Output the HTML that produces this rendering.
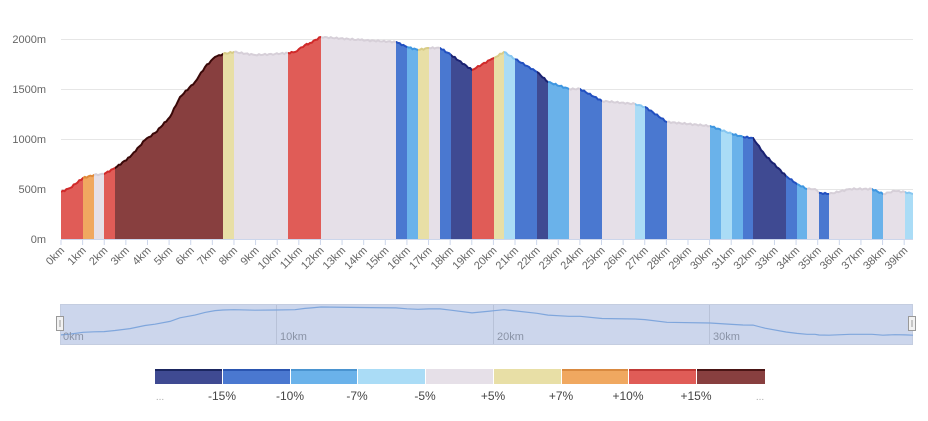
<!DOCTYPE html>
<html><head><meta charset="utf-8"><style>
html,body{margin:0;padding:0;background:#fff;}
svg{display:block;font-family:"Liberation Sans",sans-serif;}
</style></head><body>
<svg id="s" width="928" height="421" viewBox="0 0 928 421">
<defs id="defs">
<clipPath id="prof"><polygon points="61,239 61,192 70,188 83,178 94,175 104,174 115,168 130,157 145,140 155,133 170,117 180,97 195,82 205,67 215,57 223,54 234,52 255,55 275,54 288,53 295,52 305,45 310,43 321,37 360,40 396,42 407,47 418,50 429,48 440,48 451,55 472,70 490,60 494,58 504,52 515,59 537,72 548,82 569,89 580,89 602,101 635,104 645,107 667,122 710,126 732,134 743,137 753,138 765,155 786,176 797,184 807,189 815,189 819,193 829,194 850,189 872,189 883,194 895,191 905,192 913,194 913,239"/></clipPath>
</defs>
<g stroke="#e6e6e6" stroke-width="1">
<line x1="61" x2="913" y1="39.5" y2="39.5"/><line x1="61" x2="913" y1="89.5" y2="89.5"/><line x1="61" x2="913" y1="139.5" y2="139.5"/><line x1="61" x2="913" y1="189.5" y2="189.5"/>
</g>
<g font-size="11" fill="#666" text-anchor="end">
<text x="46" y="43">2000m</text><text x="46" y="93">1500m</text><text x="46" y="143">1000m</text><text x="46" y="193">500m</text><text x="46" y="243">0m</text>
</g>
<g id="areas" clip-path="url(#prof)"></g>
<g id="lines"></g>
<line x1="61" x2="913" y1="239.5" y2="239.5" stroke="#ccd6eb"/>
<g id="ticks" font-size="11" fill="#666" text-anchor="end"></g>
<rect x="60.5" y="304.5" width="852" height="40" fill="#ccd6ec" stroke="#c4cde0"/>
<g stroke="#b8c2d8"><line x1="276.5" x2="276.5" y1="305" y2="344"/><line x1="493.5" x2="493.5" y1="305" y2="344"/><line x1="709.5" x2="709.5" y1="305" y2="344"/></g>
<polyline id="nav" fill="none" stroke="#7fa6dc" stroke-width="1.2"/>
<g font-size="11" fill="#8a93a6"><text x="63" y="340">0km</text><text x="280" y="340">10km</text><text x="497" y="340">20km</text><text x="713" y="340">30km</text></g>
<rect x="56.5" y="316.5" width="7" height="14" fill="#f2f2f2" stroke="#999"/><line x1="60" x2="60" y1="320" y2="327" stroke="#999"/>
<rect x="908.5" y="316.5" width="7" height="14" fill="#f2f2f2" stroke="#999"/><line x1="912" x2="912" y1="320" y2="327" stroke="#999"/>
<g>
<rect x="155" y="369" width="67" height="15" fill="#3f4a92"/><rect x="155" y="369" width="67" height="2" fill="#1b2660"/>
<rect x="223" y="369" width="67" height="15" fill="#4a78d0"/><rect x="223" y="369" width="67" height="2" fill="#2a55b0"/>
<rect x="291" y="369" width="66" height="15" fill="#6ab2ea"/><rect x="291" y="369" width="66" height="2" fill="#4a94d0"/>
<rect x="358" y="369" width="67" height="15" fill="#aadcf6"/>
<rect x="426" y="369" width="67" height="15" fill="#e6e0e8"/>
<rect x="494" y="369" width="67" height="15" fill="#e8dfa6"/>
<rect x="562" y="369" width="66" height="15" fill="#f0a860"/><rect x="562" y="369" width="66" height="2" fill="#d98a40"/>
<rect x="629" y="369" width="67" height="15" fill="#e05c57"/><rect x="629" y="369" width="67" height="2" fill="#c03a36"/>
<rect x="697" y="369" width="68" height="15" fill="#883f3f"/><rect x="697" y="369" width="68" height="2" fill="#4a1515"/>
</g>
<g font-size="12" fill="#444" text-anchor="middle">
<text x="160" y="400" fill="#aaa" font-size="10">...</text>
<text x="222" y="400">-15%</text><text x="290" y="400">-10%</text><text x="357" y="400">-7%</text><text x="425" y="400">-5%</text>
<text x="493" y="400">+5%</text><text x="561" y="400">+7%</text><text x="628" y="400">+10%</text><text x="696" y="400">+15%</text>
<text x="760" y="400" fill="#aaa" font-size="10">...</text>
</g>
</svg>
<script>
var ns='http://www.w3.org/2000/svg';
function el(t,a,p){var e=document.createElementNS(ns,t);for(var k in a)e.setAttribute(k,a[k]);p.appendChild(e);return e;}
var pts="61,192 70,188 83,178 94,175 104,174 115,168 130,157 145,140 155,133 170,117 180,97 195,82 205,67 215,57 223,54 234,52 255,55 275,54 288,53 295,52 305,45 310,43 321,37 360,40 396,42 407,47 418,50 429,48 440,48 451,55 472,70 490,60 494,58 504,52 515,59 537,72 548,82 569,89 580,89 602,101 635,104 645,107 667,122 710,126 732,134 743,137 753,138 765,155 786,176 797,184 807,189 815,189 819,193 829,194 850,189 872,189 883,194 895,191 905,192 913,194";
var P=pts.split(' ').map(function(s){return s.split(',').map(Number);});
// jitter for ruggedness
var J=[];for(var i=0;i<P.length-1;i++){var a=P[i],b=P[i+1];var n=Math.max(1,Math.round((b[0]-a[0])/2));for(var j=0;j<n;j++){var t=j/n;var y=a[1]+(b[1]-a[1])*t;if(j>0)y+=Math.sin(a[0]*1.7+j*2.3)*0.7;J.push([a[0]+(b[0]-a[0])*t,y]);}}J.push(P[P.length-1]);
var js=J.map(function(p){return p[0].toFixed(1)+','+p[1].toFixed(1);}).join(' ');
document.querySelector('#prof polygon').setAttribute('points','61,239 '+js+' 913,239');
var C={N:['#3f4a92','#1a2272'],B:['#4a78d0','#2250c0'],L:['#6ab2ea','#3e96e0'],X:['#aadcf6','#86c6f0'],V:['#e6e0e8','#d6cfd8'],Y:['#e8dfa6','#d8cc88'],O:['#f0a860','#e08a3a'],R:['#e05c57','#d02a2a'],D:['#883f3f','#3a0808']};
var S=[[61,'R'],[83,'O'],[94,'V'],[104,'R'],[115,'D'],[223,'Y'],[234,'V'],[288,'R'],[321,'V'],[396,'B'],[407,'L'],[418,'Y'],[429,'V'],[440,'B'],[451,'N'],[472,'R'],[494,'Y'],[504,'X'],[515,'B'],[537,'N'],[548,'L'],[569,'V'],[580,'B'],[602,'V'],[635,'X'],[645,'B'],[667,'V'],[710,'L'],[721,'X'],[732,'L'],[743,'B'],[753,'N'],[786,'B'],[797,'L'],[807,'V'],[819,'B'],[829,'V'],[872,'L'],[883,'V'],[905,'X'],[913,'']];
var A=document.getElementById('areas'),Lg=document.getElementById('lines'),D=document.getElementById('defs');
for(var i=0;i<S.length-1;i++){var x0=S[i][0],x1=S[i+1][0],c=C[S[i][1]];
el('rect',{x:x0,y:30,width:x1-x0,height:210,fill:c[0]},A);
var cp=el('clipPath',{id:'c'+i},D);el('rect',{x:x0,y:20,width:x1-x0,height:230},cp);
el('polyline',{points:js,fill:'none',stroke:c[1],'stroke-width':2,'clip-path':'url(#c'+i+')'},Lg);}
document.getElementById('nav').setAttribute('points',P.map(function(p){return p[0]+','+(300.3+p[1]*0.18).toFixed(1);}).join(' '));
var g=document.getElementById('ticks');
for(var k=0;k<=39;k++){var x=61+k*21.62;
el('line',{x1:x,x2:x,y1:240,y2:245,stroke:'#ccd6eb'},g);
var t=el('text',{transform:'translate('+(x+4)+',251) rotate(-45)'},g);t.textContent=k+'km';}
</script>
</body></html>
